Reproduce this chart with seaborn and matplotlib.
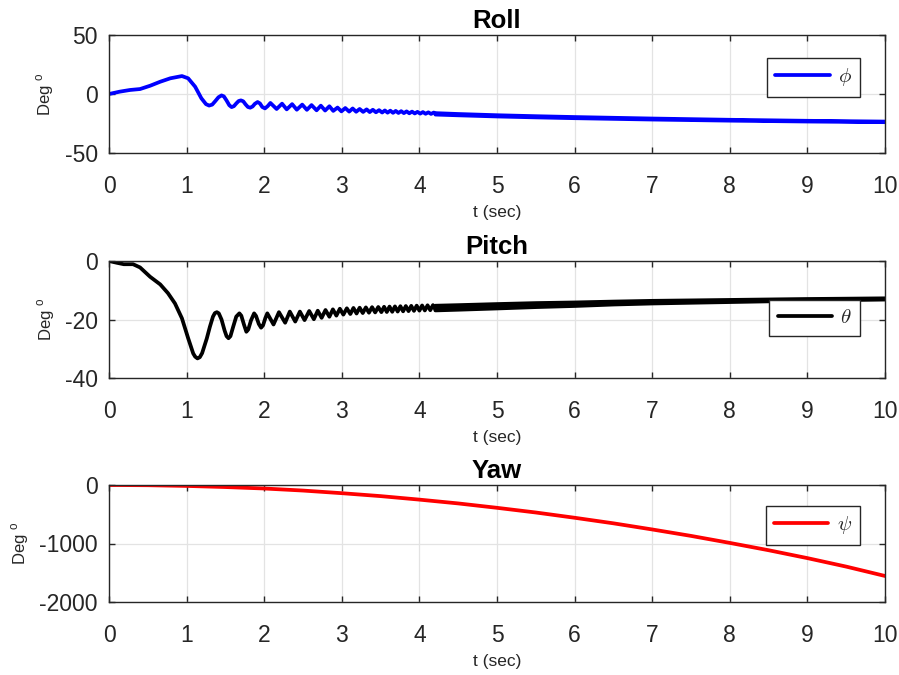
import numpy as np
import pandas as pd
import seaborn as sns
import matplotlib
matplotlib.use("Agg")
import matplotlib.pyplot as plt
from matplotlib.font_manager import FontProperties

# ---------------- data ----------------
# Roll angle (deg): slow rise, then a decaying fast oscillation
roll_t = [0.0, 0.14, 0.27, 0.40, 0.53, 0.66, 0.79, 0.94, 1.02, 1.11, 1.19, 1.25,
          1.29, 1.33, 1.37, 1.41, 1.45, 1.48, 1.515, 1.55, 1.58, 1.61, 1.64, 1.67,
          1.70, 1.73, 1.76, 1.79, 1.82, 1.85, 1.88, 1.915, 1.945, 1.975, 2.01, 2.045,
          2.08, 2.16, 2.23, 2.29, 2.36, 2.42, 2.49, 2.55, 2.61, 2.675, 2.73, 2.785,
          2.84, 2.89, 2.945, 2.995, 3.045, 3.095, 3.14, 3.185, 3.23, 3.275, 3.32,
          3.36, 3.40, 3.44, 3.48, 3.52, 3.555, 3.59, 3.625, 3.66, 3.695, 3.73, 3.765,
          3.80, 3.835, 3.87, 3.905, 3.94, 3.975, 4.01, 4.045, 4.08, 4.115, 4.15,
          4.185, 4.22]
roll_deg = [0.0, 2.0, 3.4, 4.2, 7.0, 10.4, 13.3, 15.2, 13.3, 6.2, -3.6, -8.6,
            -9.8, -9.0, -6.0, -2.8, -1.2, -2.0, -5.5, -9.5, -11.1, -10.3, -8.0, -6.0,
            -5.4, -6.2, -8.8, -11.0, -11.6, -10.6, -8.3, -6.8, -8.0, -11.0, -12.2, -10.3,
            -7.6, -12.7, -8.2, -13.0, -8.6, -13.3, -9.0, -13.4, -9.4, -13.8, -9.9, -14.0,
            -10.4, -14.3, -11.5, -14.7, -11.9, -14.9, -12.27, -15.03, -12.68, -15.17, -13.03,
            -15.33, -13.35, -15.5, -13.68, -15.7, -13.92, -15.83, -14.12, -15.96, -14.33,
            -16.07, -14.54, -16.2, -14.73, -16.35, -14.93, -16.48, -15.13, -16.63, -15.32,
            -16.76, -15.54, -16.88, -15.74, -17.03]
# late roll: mean value and half-spread of the small residual ripple
roll_tail_t = [4.2, 4.5, 5.0, 5.5, 6.0, 6.5, 7.0, 7.5, 8.0, 8.5, 9.0, 9.5, 10.0]
roll_tail_mean = [-16.4, -17.1, -18.1, -18.9, -19.6, -20.2, -20.8, -21.3, -21.8,
                  -22.2, -22.6, -22.9, -23.2]
roll_tail_spread = [0.6, 0.55, 0.52, 0.5, 0.48, 0.45, 0.42, 0.39, 0.36, 0.33, 0.3,
                    0.27, 0.25]

# Pitch angle (deg)
pitch_t = [0.0, 0.1, 0.19, 0.31, 0.40, 0.53, 0.66, 0.76, 0.85, 0.94, 1.02, 1.085,
           1.11, 1.14, 1.17, 1.20, 1.26, 1.30, 1.34, 1.365, 1.39, 1.415, 1.45, 1.49,
           1.515, 1.54, 1.565, 1.60, 1.64, 1.68, 1.705, 1.74, 1.77, 1.795, 1.83, 1.87,
           1.895, 1.93, 1.96, 1.985, 2.015, 2.04, 2.12, 2.19, 2.27, 2.33, 2.40, 2.46,
           2.52, 2.58, 2.64, 2.69, 2.74, 2.79, 2.84, 2.885, 2.93, 2.975, 3.02, 3.065,
           3.11, 3.15, 3.19, 3.23, 3.27, 3.31, 3.35, 3.39, 3.43, 3.47, 3.51, 3.545,
           3.58, 3.615, 3.65, 3.685, 3.72, 3.755, 3.79, 3.825, 3.86, 3.895, 3.93,
           3.965, 4.0, 4.035, 4.07, 4.105, 4.14, 4.175, 4.21]
pitch_deg = [0.0, -0.6, -1.1, -1.1, -2.2, -5.4, -8.0, -11.0, -14.5, -19.6, -26.4, -31.6,
             -32.7, -33.3, -32.9, -31.5, -26.5, -22.5, -19.0, -17.8, -17.5, -17.9, -20.0, -23.8,
             -25.7, -26.4, -25.7, -22.5, -19.0, -17.9, -18.7, -21.8, -24.2, -23.4, -20.3, -17.9,
             -18.8, -21.5, -22.8, -22.0, -19.5, -17.9, -21.7, -17.5, -21.1, -17.3, -20.7, -17.3,
             -20.2, -17.1, -19.9, -17.0, -19.42, -16.76, -19.05, -16.54, -18.67, -16.32, -18.33,
             -16.17, -18.13, -16.06, -17.95, -15.96, -17.8, -15.86, -17.68, -15.78, -17.58,
             -15.72, -17.49, -15.66, -17.43, -15.59, -17.36, -15.53, -17.28, -15.46, -17.2,
             -15.4, -17.13, -15.34, -17.04, -15.27, -16.96, -15.21, -16.9, -15.15, -16.82,
             -15.09, -16.76]
pitch_tail_t = [4.2, 4.5, 5.0, 5.5, 6.0, 6.5, 7.0, 7.5, 8.0, 8.5, 9.0, 9.5, 10.0]
pitch_tail_mean = [-15.92, -15.7, -15.3, -14.9, -14.6, -14.2, -13.9, -13.7, -13.5,
                   -13.3, -13.1, -12.95, -12.8]
pitch_tail_spread = [0.8, 0.78, 0.75, 0.68, 0.6, 0.5, 0.45, 0.4, 0.36, 0.32, 0.28,
                     0.24, 0.21]

# Yaw angle (deg)
yaw_t = [0.0, 0.5, 1.0, 1.5, 2.0, 2.5, 3.0, 3.5, 4.0, 4.5, 5.0, 5.5, 6.0, 6.5, 7.0,
         7.5, 8.0, 8.5, 9.0, 9.5, 10.0]
yaw_deg = [0, -4, -16, -35, -60, -95, -140, -190, -250, -315, -390, -470, -560, -655,
           -760, -870, -990, -1115, -1250, -1395, -1555]

titles = ["Roll", "Pitch", "Yaw"]
legend_labels = [r"$\phi$", r"$\theta$", r"$\psi$"]
line_colors = ["#0000ff", "#000000", "#ff0000"]
y_ticks = [[-50, 0, 50], [-40, -20, 0], [-2000, -1000, 0]]
x_ticks = list(range(0, 11))

# ---------------- style ----------------
sns.set_theme(style="ticks")
plt.rcParams["font.family"] = ["Liberation Sans", "DejaVu Sans"]
plt.rcParams["axes.unicode_minus"] = False
plt.rcParams["mathtext.fontset"] = "custom"
plt.rcParams["mathtext.rm"] = "Liberation Sans"

AX_COLOR = "#262626"
GRID_COLOR = "#e3e3e3"
LW = 2.7

fig = plt.figure(figsize=(8.99, 6.75), dpi=100)
fig.patch.set_facecolor("white")

left, width = 109 / 899, 776 / 899
boxes = [(left, 1 - 153 / 675, width, 118 / 675),
         (left, 1 - 378 / 675, width, 117 / 675),
         (left, 1 - 602 / 675, width, 117 / 675)]
legend_anchor = [(0.968, 0.805), (0.968, 0.667), (0.968, 0.82)]

frames = [pd.DataFrame({"t": roll_t, "deg": roll_deg}),
          pd.DataFrame({"t": pitch_t, "deg": pitch_deg}),
          pd.DataFrame({"t": yaw_t, "deg": yaw_deg})]
tails = [(roll_tail_t, roll_tail_mean, roll_tail_spread),
         (pitch_tail_t, pitch_tail_mean, pitch_tail_spread),
         None]

legend_font = FontProperties(size=15, math_fontfamily="cm")

for i in range(3):
    ax = fig.add_axes(boxes[i])
    ax.set_facecolor("white")
    color = line_colors[i]
    sns.lineplot(data=frames[i], x="t", y="deg", ax=ax, color=color, lw=LW,
                 estimator=None, sort=False, legend=False,
                 solid_joinstyle="round", solid_capstyle="round")
    if tails[i] is not None:
        tt, mean, spread = (np.asarray(a, dtype=float) for a in tails[i])
        ax.fill_between(tt, mean - spread, mean + spread, facecolor=color,
                        edgecolor=color, linewidth=LW, joinstyle="round")

    ax.set_xlim(0, 10)
    ax.set_ylim(min(y_ticks[i]), max(y_ticks[i]))
    ax.set_xticks(x_ticks)
    ax.set_yticks(y_ticks[i])
    ax.set_xticklabels([str(v) for v in x_ticks])
    ax.set_yticklabels([str(v) for v in y_ticks[i]])

    ax.grid(True, color=GRID_COLOR, lw=0.9)
    ax.set_axisbelow(True)
    for s in ax.spines.values():
        s.set_visible(True)
        s.set_color(AX_COLOR)
        s.set_linewidth(1.0)
    ax.tick_params(axis="both", which="both", direction="in", length=4,
                   width=1.0, color=AX_COLOR, labelcolor=AX_COLOR,
                   top=True, right=True, labelsize=16.5)
    ax.tick_params(axis="x", pad=16)
    ax.tick_params(axis="y", pad=8)

    ax.set_title(titles[i], fontsize=18.5, fontweight="bold", color="black", pad=5)
    ax.set_xlabel("t (sec)", fontsize=12.5, color=AX_COLOR, labelpad=5)
    ax.set_ylabel(r"Deg $^{\rm o}$", fontsize=12, color=AX_COLOR, labelpad=6)

    handle = ax.get_lines()[0]
    leg = ax.legend([handle], [legend_labels[i]], loc="upper right",
                    bbox_to_anchor=legend_anchor[i], borderaxespad=0,
                    prop=legend_font, frameon=True, fancybox=False,
                    framealpha=1, edgecolor=AX_COLOR, handlelength=2.6,
                    handletextpad=0.4, borderpad=0.4)
    leg.get_frame().set_linewidth(1.0)

fig.savefig("out.png", dpi=100, facecolor="white")
